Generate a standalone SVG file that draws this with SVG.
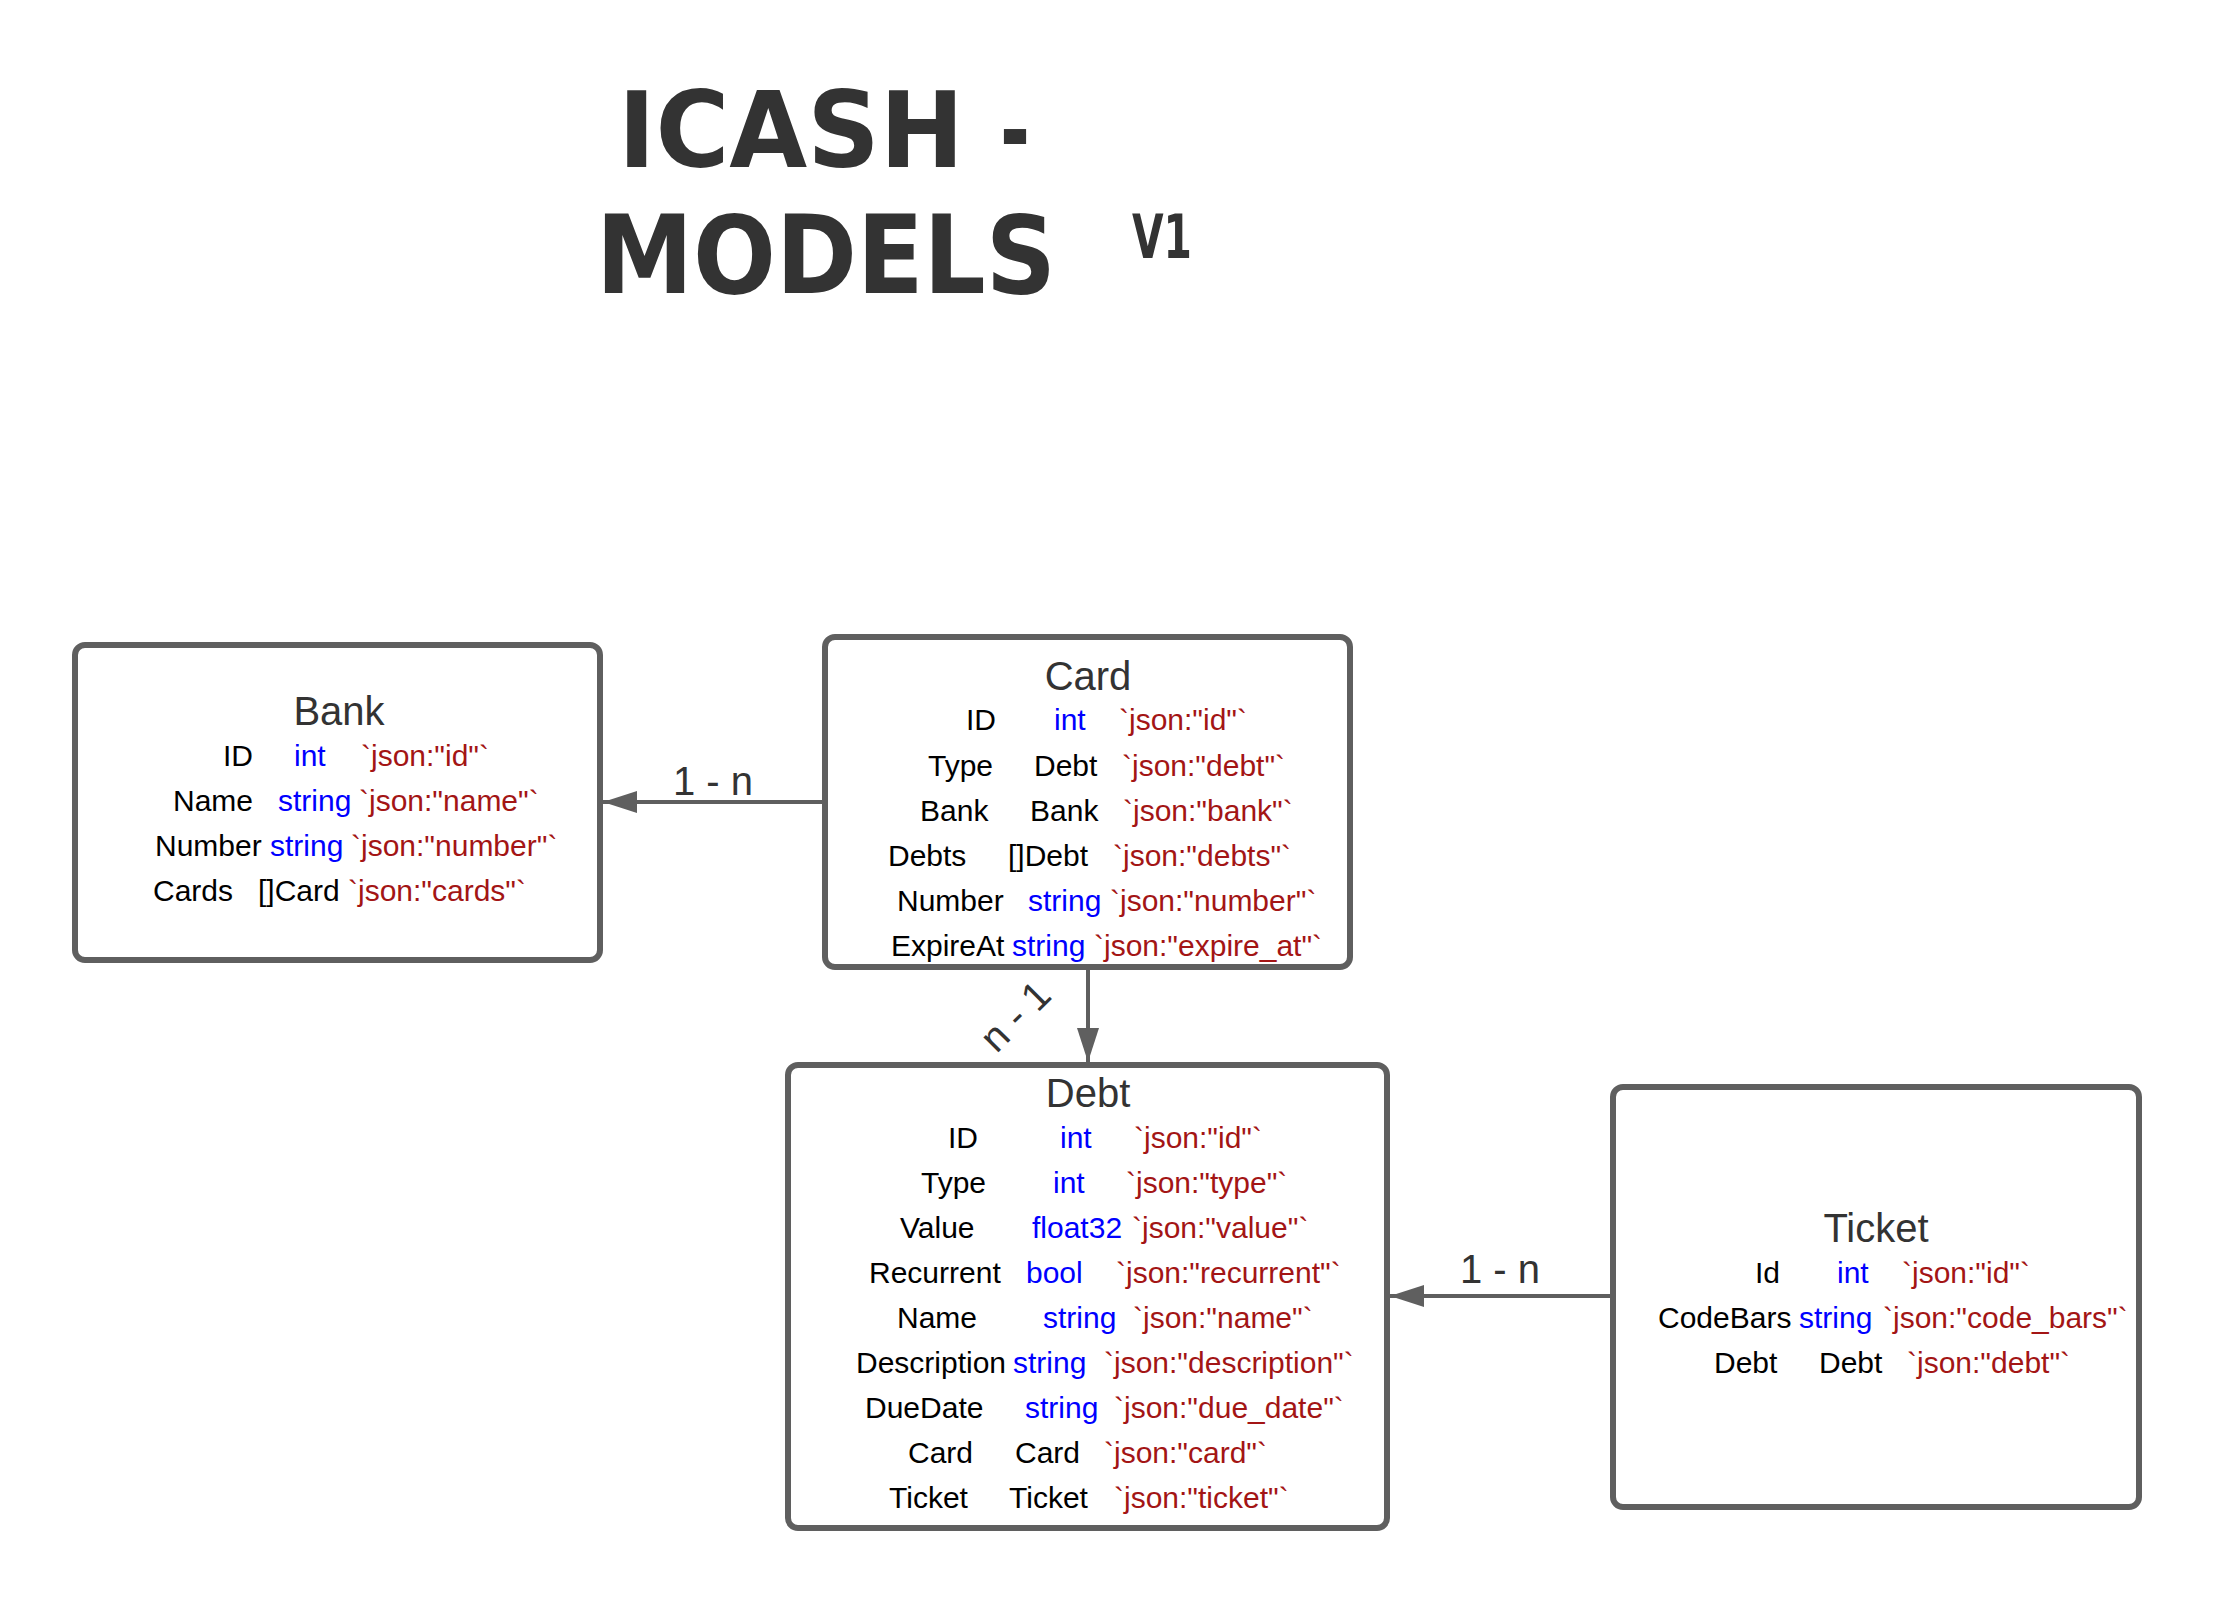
<svg xmlns="http://www.w3.org/2000/svg" width="2213" height="1605" viewBox="0 0 2213 1605">
<style>
.box{fill:#ffffff;stroke:#5f5f5f;stroke-width:6}
.ttl{font-family:"Liberation Sans",Arial,sans-serif;font-size:40px;fill:#333333;text-anchor:middle}
.row{font-family:"Liberation Sans",Arial,sans-serif;font-size:30px;fill:#000000}
.ty{fill:#0000ff}
.tg{fill:#a31515}
.lbl{font-family:"Liberation Sans",Arial,sans-serif;font-size:40px;fill:#333333;text-anchor:middle}
.con{fill:none;stroke:#5f5f5f;stroke-width:4}
.hand{font-family:"DejaVu Sans Condensed","DejaVu Sans",sans-serif;font-weight:bold;fill:#333333}
</style>
<defs>
<marker id="arr" viewBox="0 0 34 22" refX="34" refY="11" markerWidth="34" markerHeight="22" markerUnits="userSpaceOnUse" orient="auto">
<path d="M0,0 L34,11 L0,22 z" fill="#5f5f5f"/>
</marker>
</defs>
<rect width="2213" height="1605" fill="#ffffff"/>
<g id="title">
<text class="hand" x="618" y="167" font-size="106" textLength="346" lengthAdjust="spacingAndGlyphs">ICASH</text>
<text class="hand" x="1000" y="167" font-size="106" textLength="30" lengthAdjust="spacingAndGlyphs">-</text>
<text class="hand" x="596" y="293" font-size="108" textLength="460" lengthAdjust="spacingAndGlyphs">MODELS</text>
<text class="hand" x="1132" y="258" font-size="60" textLength="60" lengthAdjust="spacingAndGlyphs">V1</text>
</g>
<g id="connectors">
<path class="con" d="M825,802 L603,802" marker-end="url(#arr)"/>
<text class="lbl" x="713" y="795">1 - n</text>
<path class="con" d="M1088,967 L1088,1062" marker-end="url(#arr)"/>
<text class="lbl" x="1015" y="1030" transform="rotate(-45 1015 1016)">n - 1</text>
<path class="con" d="M1613,1296 L1390,1296" marker-end="url(#arr)"/>
<text class="lbl" x="1500" y="1283">1 - n</text>
</g>
<g id="bank">
<rect class="box" x="75" y="645" width="525" height="315" rx="10"/>
<text class="ttl" x="339" y="725">Bank</text>
<text class="row" y="766"><tspan x="223">ID</tspan><tspan class="ty" x="294">int</tspan><tspan class="tg" x="361">`json:"id"`</tspan></text>
<text class="row" y="811"><tspan x="173">Name</tspan><tspan class="ty" x="278">string</tspan><tspan class="tg" x="359">`json:"name"`</tspan></text>
<text class="row" y="856"><tspan x="155">Number</tspan><tspan class="ty" x="270">string</tspan><tspan class="tg" x="351">`json:"number"`</tspan></text>
<text class="row" y="901"><tspan x="153">Cards</tspan><tspan x="258">[]Card</tspan><tspan class="tg" x="348">`json:"cards"`</tspan></text>
</g>
<g id="card">
<rect class="box" x="825" y="637" width="525" height="330" rx="10"/>
<text class="ttl" x="1088" y="690">Card</text>
<text class="row" y="730"><tspan x="966">ID</tspan><tspan class="ty" x="1054">int</tspan><tspan class="tg" x="1119">`json:"id"`</tspan></text>
<text class="row" y="776"><tspan x="928">Type</tspan><tspan x="1034">Debt</tspan><tspan class="tg" x="1122">`json:"debt"`</tspan></text>
<text class="row" y="821"><tspan x="920">Bank</tspan><tspan x="1030">Bank</tspan><tspan class="tg" x="1123">`json:"bank"`</tspan></text>
<text class="row" y="866"><tspan x="888">Debts</tspan><tspan x="1008">[]Debt</tspan><tspan class="tg" x="1113">`json:"debts"`</tspan></text>
<text class="row" y="911"><tspan x="897">Number</tspan><tspan class="ty" x="1028">string</tspan><tspan class="tg" x="1110">`json:"number"`</tspan></text>
<text class="row" y="956"><tspan x="891">ExpireAt</tspan><tspan class="ty" x="1012">string</tspan><tspan class="tg" x="1094">`json:"expire_at"`</tspan></text>
</g>
<g id="debt">
<rect class="box" x="788" y="1065" width="599" height="463" rx="10"/>
<text class="ttl" x="1088" y="1107">Debt</text>
<text class="row" y="1148"><tspan x="948">ID</tspan><tspan class="ty" x="1060">int</tspan><tspan class="tg" x="1134">`json:"id"`</tspan></text>
<text class="row" y="1193"><tspan x="921">Type</tspan><tspan class="ty" x="1053">int</tspan><tspan class="tg" x="1126">`json:"type"`</tspan></text>
<text class="row" y="1238"><tspan x="900">Value</tspan><tspan class="ty" x="1032">float32</tspan><tspan class="tg" x="1132">`json:"value"`</tspan></text>
<text class="row" y="1283"><tspan x="869">Recurrent</tspan><tspan class="ty" x="1026">bool</tspan><tspan class="tg" x="1116">`json:"recurrent"`</tspan></text>
<text class="row" y="1328"><tspan x="897">Name</tspan><tspan class="ty" x="1043">string</tspan><tspan class="tg" x="1133">`json:"name"`</tspan></text>
<text class="row" y="1373"><tspan x="856">Description</tspan><tspan class="ty" x="1013">string</tspan><tspan class="tg" x="1104">`json:"description"`</tspan></text>
<text class="row" y="1418"><tspan x="865">DueDate</tspan><tspan class="ty" x="1025">string</tspan><tspan class="tg" x="1114">`json:"due_date"`</tspan></text>
<text class="row" y="1463"><tspan x="908">Card</tspan><tspan x="1015">Card</tspan><tspan class="tg" x="1104">`json:"card"`</tspan></text>
<text class="row" y="1508"><tspan x="889">Ticket</tspan><tspan x="1009">Ticket</tspan><tspan class="tg" x="1114">`json:"ticket"`</tspan></text>
</g>
<g id="ticket">
<rect class="box" x="1613" y="1087" width="526" height="420" rx="10"/>
<text class="ttl" x="1876" y="1242">Ticket</text>
<text class="row" y="1283"><tspan x="1755">Id</tspan><tspan class="ty" x="1837">int</tspan><tspan class="tg" x="1902">`json:"id"`</tspan></text>
<text class="row" y="1328"><tspan x="1658">CodeBars</tspan><tspan class="ty" x="1799">string</tspan><tspan class="tg" x="1883">`json:"code_bars"`</tspan></text>
<text class="row" y="1373"><tspan x="1714">Debt</tspan><tspan x="1819">Debt</tspan><tspan class="tg" x="1907">`json:"debt"`</tspan></text>
</g>
</svg>
